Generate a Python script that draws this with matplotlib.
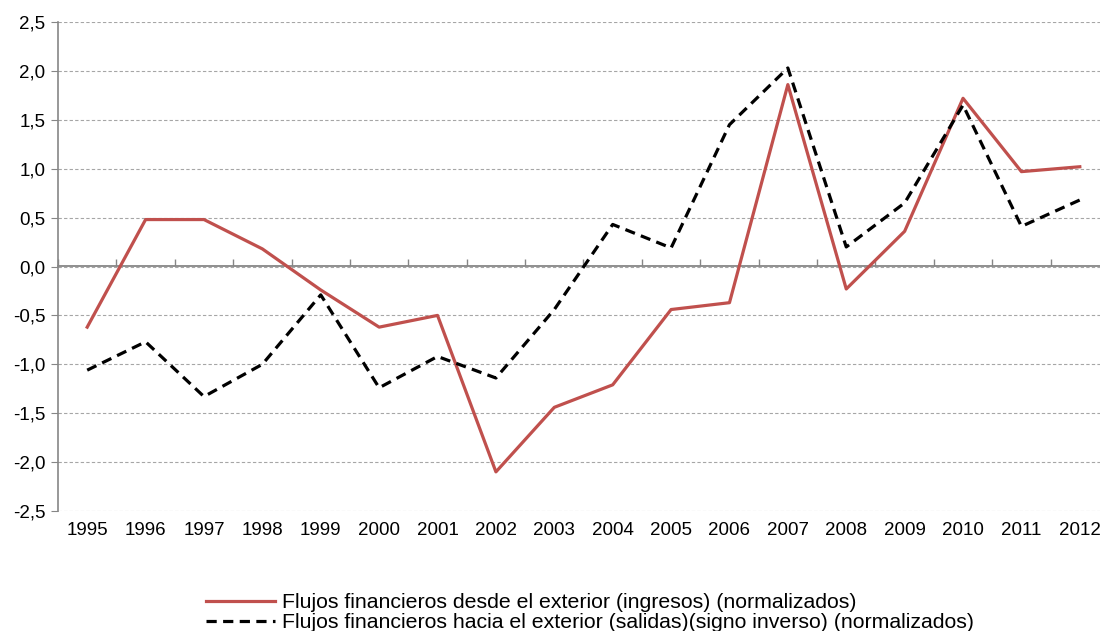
import matplotlib.pyplot as plt
import numpy as np

plt.rcParams['font.family'] = ['Liberation Sans', 'DejaVu Sans']

# data
years = ['1995', '1996', '1997', '1998', '1999', '2000', '2001', '2002', '2003',
         '2004', '2005', '2006', '2007', '2008', '2009', '2010', '2011', '2012']
ingresos = [-0.62, 0.48, 0.48, 0.18, -0.24, -0.62, -0.50, -2.10, -1.44,
            -1.21, -0.44, -0.37, 1.86, -0.23, 0.36, 1.72, 0.97, 1.02]
salidas = [-1.06, -0.77, -1.33, -1.00, -0.29, -1.24, -0.92, -1.14, -0.44,
           0.43, 0.19, 1.45, 2.03, 0.20, 0.65, 1.65, 0.41, 0.68]
label_ing = 'Flujos financieros desde el exterior (ingresos) (normalizados)'
label_sal = 'Flujos financieros hacia el exterior (salidas)(signo inverso) (normalizados)'

fig = plt.figure(figsize=(11, 6.31), dpi=100)
ax = fig.add_axes([58 / 1100, 1 - 511 / 631, 1051 / 1100, 489 / 631])

x = np.arange(len(years))
ax.plot(x, ingresos, color='#C0504D', lw=2.3, label=label_ing)
ax.plot(x, salidas, color='black', lw=2.3, ls=(0, (3.2, 2.0)), label=label_sal)

ax.set_xlim(-0.5, len(years) - 0.5)
ax.set_ylim(-2.5, 2.5)
yt = np.arange(-2.5, 2.51, 0.5)
ax.set_yticks(yt)
ax.set_yticklabels([f'{v:.1f}'.replace('.', ',') for v in yt])
ax.yaxis.grid(True, color='#A6A6A6', ls=(0, (3, 2)), lw=0.8)
ax.set_axisbelow(True)

ax.set_xticks(x)
ax.set_xticklabels(years)
ax.tick_params(axis='x', length=0, pad=8, labelsize=13.5)
ax.tick_params(axis='y', direction='out', length=5, color='#868686', labelsize=13.5, pad=4)

for s in ['top', 'right', 'bottom']:
    ax.spines[s].set_visible(False)
ax.spines['left'].set_color('#868686')
ax.spines['left'].set_linewidth(1.2)

# zero line with category boundary ticks
sec = ax.secondary_xaxis(0.5)
sec.set_xticks(np.arange(len(years) + 1) - 0.5)
sec.set_xticklabels([])
sec.tick_params(direction='out', length=5, color='#868686', width=1)
for s in sec.spines.values():
    s.set_color('#868686')
    s.set_linewidth(1.3)

fig.legend(loc='upper left', bbox_to_anchor=(206 / 1100, 1 - 593 / 631), frameon=False,
           fontsize=15.3, handlelength=3.25, handletextpad=0.33, labelspacing=0.06,
           borderpad=0, borderaxespad=0)

fig.savefig('out.png', dpi=100)
